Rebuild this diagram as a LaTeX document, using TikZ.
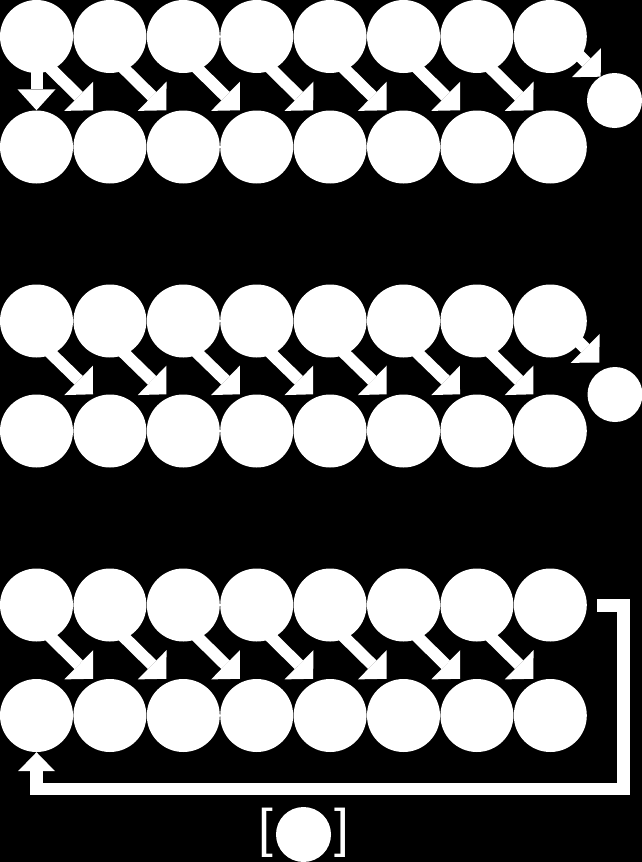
\documentclass[tikz,border=0pt]{standalone}
\usepackage{fontspec}
\newfontfamily\brfont{Liberation Sans}
\usetikzlibrary{arrows.meta}
\begin{document}
\begin{tikzpicture}[x=1pt,y=-1pt,
  circ/.style={circle,fill=white,draw=none,minimum size=73pt,inner sep=0pt},
  scirc/.style={circle,fill=white,draw=none,minimum size=55pt,inner sep=0pt},
  arr/.style={white,line width=12pt,-{Triangle[length=20pt,width=41pt,line width=0pt]}},
  varr/.style={white,line width=12pt,-{Triangle[length=21pt,width=38pt,line width=0pt]}},
  fb/.style={white,line width=12.5pt,line join=miter,-{Triangle[length=19pt,width=37pt,line width=0pt]}},
  br/.style={text=white,inner sep=0pt,font=\brfont\fontsize{53}{60}\selectfont}]
\fill[black] (0,0) rectangle (642,862);
\useasboundingbox (0,0) rectangle (642,862);
% rows of circles
\foreach \g/\yt/\yb in {1/36.5/147, 2/321/431, 3/605/715.5}{
  \foreach \i in {0,...,7}{
    \node[circ] (t\g-\i) at (36.5+73.4*\i,\yt) {};
    \node[circ] (b\g-\i) at (36.5+73.4*\i,\yb) {};
  }
}
% small circles
\node[scirc] (s1) at (614.5,100.5) {};
\node[scirc] (s2) at (615,394.5) {};
% diagonal arrows
\foreach \g in {1,2,3}{
  \foreach \i [evaluate=\i as \j using int(\i+1)] in {0,...,6}{
    \coordinate (st\g-\i) at ([xshift=11.5pt,yshift=-29.5pt]t\g-\i.center);
    \coordinate (tp\g-\i) at ([xshift=-16.9pt]b\g-\j.north);
    \draw[arr] (st\g-\i) -- (tp\g-\i);
  }
}
% first vertical arrow
\draw[varr] ([yshift=-23.5pt]t1-0.center) -- (b1-0.north);
% arrows to small circles
\coordinate (ls1) at ([xshift=10pt,yshift=0pt]t1-7.center);
\coordinate (lt1) at ([xshift=50.4pt,yshift=-40.2pt]t1-7.center);
\draw[arr] (ls1) -- (lt1);
\coordinate (ls2) at ([xshift=9pt,yshift=-1.5pt]t2-7.center);
\coordinate (lt2) at ([xshift=49pt,yshift=-41.5pt]t2-7.center);
\draw[arr] (ls2) -- (lt2);
% feedback loop
\coordinate (fbA) at (597,605.5);
\coordinate (fbB) at (623.5,789);
\draw[fb] (fbA) -| (fbB) -| (b3-0.south);
% legend
\node[br] (lb) at (265.5,833) {[};
\node[br] (rb) at (342,833) {]};
\node[scirc] (bc) at (303.5,834.5) {};
\end{tikzpicture}
\end{document}
